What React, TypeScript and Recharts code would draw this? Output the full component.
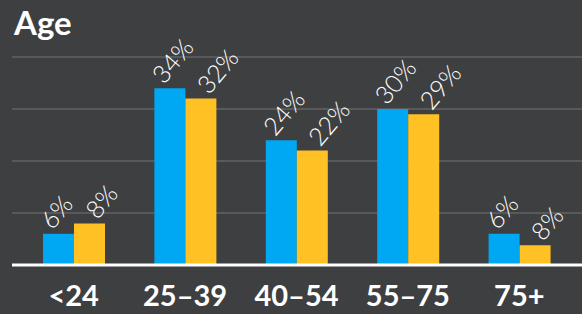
import { Bar, BarChart, CartesianGrid, LabelList, XAxis, YAxis } from "recharts";

const ageGroups = ["<24", "25–39", "40–54", "55–75", "75+"];
const blueValues = [6, 34, 24, 30, 6];
const yellowValues = [8, 32, 22, 29, 3.8];
const blueLabels = ["6%", "34%", "24%", "30%", "6%"];
const yellowLabels = ["8%", "32%", "22%", "29%", "8%"];
const yTicks = [0, 10, 20, 30, 40];

const BG = "#3e3f41";
const BLUE = "#00a8f4";
const YELLOW = "#ffc124";

const data = ageGroups.map((group, i) => ({
  group,
  blue: blueValues[i],
  yellow: yellowValues[i],
  blueLabel: blueLabels[i],
  yellowLabel: yellowLabels[i],
}));

const makeLabel = (shift: number) => (props: any) => {
  const { x, y, width, value } = props;
  const ax = Number(x) + Number(width) / 2 + shift;
  const ay = Number(y) - 3;
  return (
    <g transform={`translate(${ax}, ${ay}) rotate(-50)`}>
      <text
        x={0}
        y={0}
        textAnchor="start"
        fill="#ffffff"
        fontSize={25}
        fontWeight={300}
        fontFamily="Lato, 'Open Sans', sans-serif"
      >
        {value}
      </text>
    </g>
  );
};

const blueLabel = makeLabel(-6);
const yellowLabel = makeLabel(8);

export default function App() {
  return (
    <div style={{ position: "fixed", left: 0, top: 0, width: 582, height: 314, background: BG }}>
      <div
        style={{
          position: "absolute",
          left: 14,
          top: 2,
          color: "#fff",
          fontFamily: "Lato, sans-serif",
          fontWeight: 700,
          fontSize: 33,
        }}
      >
        Age
      </div>
      <BarChart
        width={582}
        height={314}
        data={data}
        margin={{ top: 57, right: 0, bottom: 0, left: 12 }}
        barGap={0}
        barSize={31}
      >
        <CartesianGrid vertical={false} stroke="#58595b" strokeWidth={2} />
        <YAxis hide domain={[0, 40]} ticks={yTicks} />
        <XAxis
          dataKey="group"
          height={49}
          padding={{ left: 6, right: 7 }}
          tickLine={false}
          axisLine={{ stroke: "#ffffff", strokeWidth: 3 }}
          tick={{ fill: "#ffffff", fontSize: 29, fontWeight: 700, fontFamily: "Lato, sans-serif" }}
          dy={12}
        />
        <Bar dataKey="blue" fill={BLUE} isAnimationActive={false}>
          <LabelList dataKey="blueLabel" content={blueLabel} />
        </Bar>
        <Bar dataKey="yellow" fill={YELLOW} isAnimationActive={false}>
          <LabelList dataKey="yellowLabel" content={yellowLabel} />
        </Bar>
      </BarChart>
    </div>
  );
}
